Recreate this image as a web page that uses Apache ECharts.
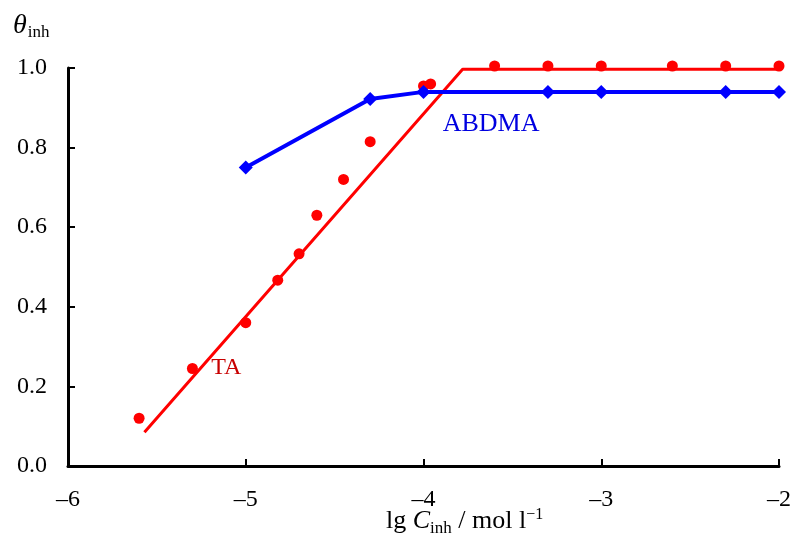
<!DOCTYPE html>
<html>
<head>
<meta charset="utf-8">
<script src="https://cdn.jsdelivr.net/npm/echarts@6/dist/echarts.min.js"></script>
<style>
  html, body { margin: 0; padding: 0; background: #fff; }
  #chart { width: 794px; height: 542px; }
</style>
</head>
<body>
<div id="chart"></div>
<script>
// TA experimental points
const taX = [-5.6, -5.3, -5.0, -4.82, -4.7, -4.6, -4.45, -4.3, -4.0, -3.96, -3.6, -3.3, -3.0, -2.6, -2.3, -2.0];
const taY = [0.12, 0.245, 0.36, 0.467, 0.533, 0.63, 0.72, 0.815, 0.955, 0.96, 1.005, 1.005, 1.005, 1.005, 1.005, 1.005];
// TA fitted line (start, break, end)
const taFitX = [-5.57, -3.78, -2.0];
const taFitY = [0.085, 0.997, 0.997];
// ABDMA points
const abX = [-5.0, -4.3, -4.0, -3.3, -3.0, -2.3, -2.0];
const abY = [0.75, 0.922, 0.94, 0.94, 0.94, 0.94, 0.94];
// text labels
const labels = [
  { name: "TA", x: -5.11, y: 0.248, color: "#c80000", size: 24 },
  { name: "ABDMA", x: -3.62, y: 0.86, color: "#0000e0", size: 26 }
];

const font = "Liberation Serif";
const zip = (a, b) => a.map((v, i) => [v, b[i]]);

let mychart = echarts.init(document.getElementById("chart"));
mychart.setOption({
  animation: false,
  textStyle: { fontFamily: font },
  grid: { left: 68, right: 12, top: 68, bottom: 76 },
  xAxis: {
    type: "value",
    min: -6,
    max: -2,
    interval: 1,
    axisLine: { onZero: false, lineStyle: { color: "#000", width: 3 } },
    axisTick: { inside: true, length: 7, lineStyle: { color: "#000", width: 2 } },
    axisLabel: {
      color: "#000",
      fontSize: 24,
      fontFamily: font,
      margin: 22,
      formatter: (v) => (v < 0 ? "\u2013" + Math.abs(v) : String(v))
    },
    splitLine: { show: false }
  },
  yAxis: {
    type: "value",
    min: 0,
    max: 1,
    interval: 0.2,
    axisLine: { show: true, lineStyle: { color: "#000", width: 3 } },
    axisTick: { show: true, inside: true, length: 7, lineStyle: { color: "#000", width: 2 } },
    axisLabel: {
      color: "#000",
      fontSize: 24,
      fontFamily: font,
      margin: 21,
      formatter: (v) => v.toFixed(1)
    },
    splitLine: { show: false }
  },
  graphic: [
    {
      type: "text",
      left: 13,
      top: 12,
      style: {
        text: "{t|θ}{s|inh}",
        rich: {
          t: { fontFamily: font, fontStyle: "italic", fontSize: 28, fill: "#000" },
          s: { fontFamily: font, fontSize: 17, fill: "#000", padding: [14, 0, 0, 1] }
        }
      }
    },
    {
      type: "text",
      left: 386,
      top: 507,
      style: {
        text: "{a|lg }{c|C}{s|inh}{a| / mol l}{p|\u22121}",
        rich: {
          a: { fontFamily: font, fontSize: 26, fill: "#000" },
          c: { fontFamily: font, fontStyle: "italic", fontSize: 26, fill: "#000" },
          s: { fontFamily: font, fontSize: 17, fill: "#000", padding: [16, 0, 0, 0] },
          p: { fontFamily: font, fontSize: 16, fill: "#000", padding: [0, 0, 12, 0] }
        }
      }
    }
  ],
  series: [
    {
      type: "line",
      data: zip(taFitX, taFitY),
      showSymbol: false,
      clip: false,
      lineStyle: { color: "#ff0000", width: 3 },
      z: 2
    },
    {
      type: "scatter",
      data: zip(taX, taY),
      symbol: "circle",
      symbolSize: 11,
      clip: false,
      itemStyle: { color: "#ff0000", opacity: 1 },
      z: 3
    },
    {
      type: "line",
      data: zip(abX, abY),
      symbol: "diamond",
      symbolSize: 14,
      showAllSymbol: true,
      clip: false,
      lineStyle: { color: "#0000ff", width: 4 },
      itemStyle: { color: "#0000ff", opacity: 1 },
      z: 4
    },
    {
      type: "scatter",
      data: labels.map((l) => ({
        value: [l.x, l.y],
        label: {
          show: true,
          formatter: l.name,
          position: "inside",
          color: l.color,
          fontSize: l.size,
          fontFamily: font
        }
      })),
      symbolSize: 0,
      itemStyle: { opacity: 1 },
      silent: true,
      z: 5
    }
  ]
});
</script>
</body>
</html>
